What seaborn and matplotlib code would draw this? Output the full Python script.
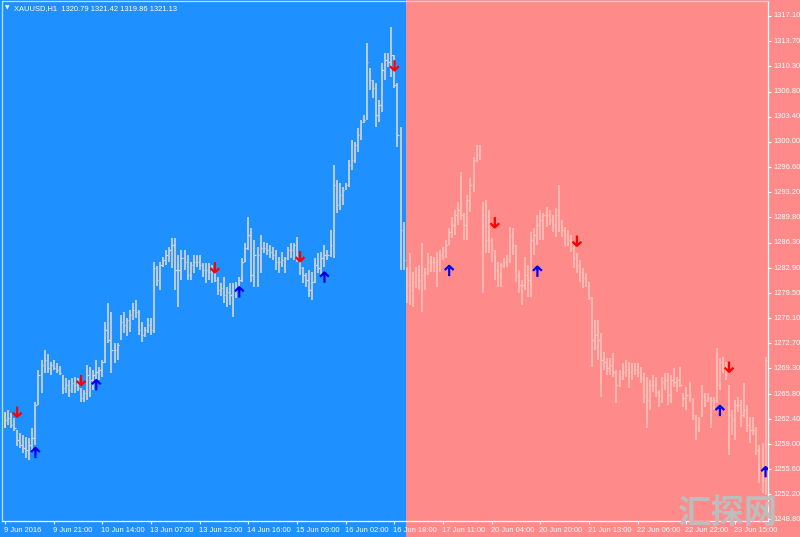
import numpy as np
import pandas as pd
import matplotlib
matplotlib.use("Agg")
import matplotlib.pyplot as plt
import seaborn as sns
from matplotlib.path import Path
from matplotlib.patches import Rectangle
import matplotlib.transforms as mtransforms
from matplotlib import font_manager

# ---------------- data (XAUUSD H1) ----------------
highs = [
    1263.4, 1263.6, 1263.2, 1262.6, 1260.9, 1260.5, 1260.2, 1260.0, 1259.8, 1261.2,
    1264.7, 1269.1, 1270.4, 1271.8, 1271.2, 1270.1, 1270.4, 1270.0, 1269.6, 1268.4,
    1268.0, 1267.7, 1268.0, 1268.1, 1268.0, 1266.6, 1266.4, 1269.7, 1269.5, 1269.1,
    1270.4, 1269.5, 1270.4, 1275.6, 1278.2, 1276.9, 1272.7, 1272.7, 1276.5, 1276.9,
    1276.1, 1277.2, 1278.2, 1278.6, 1277.2, 1275.6, 1274.9, 1276.1, 1276.1, 1283.7,
    1283.2, 1283.7, 1284.4, 1285.4, 1285.8, 1287.0, 1287.0, 1284.7, 1285.4, 1285.4,
    1284.7, 1283.7, 1284.7, 1284.7, 1284.7, 1283.6, 1283.6, 1283.6, 1283.3, 1283.0,
    1281.7, 1280.9, 1281.7, 1280.3, 1280.9, 1280.9, 1281.0, 1281.7, 1284.3, 1286.3,
    1289.8, 1288.3, 1286.7, 1285.8, 1287.4, 1286.4, 1286.3, 1286.0, 1285.8, 1285.4,
    1284.4, 1285.1, 1284.4, 1285.8, 1286.3, 1286.3, 1287.1, 1283.7, 1283.0, 1282.2,
    1282.6, 1282.4, 1284.3, 1284.9, 1285.1, 1286.0, 1285.4, 1288.1, 1296.9, 1294.8,
    1294.4, 1293.9, 1294.4, 1297.6, 1300.3, 1300.0, 1301.9, 1303.0, 1303.7, 1313.4,
    1310.0, 1308.4, 1308.0, 1305.7, 1310.7, 1312.1, 1312.1, 1315.6, 1311.8, 1308.0,
    1302.0, 1289.1, 1283.0, 1284.9, 1282.4, 1283.0, 1283.3, 1286.3, 1282.9, 1284.9,
    1284.5, 1284.4, 1285.1, 1285.4, 1285.8, 1286.7, 1288.3, 1289.8, 1290.8, 1291.9,
    1295.9, 1290.4, 1292.8, 1295.1, 1298.0, 1299.6, 1299.6, 1291.9, 1292.1, 1290.8,
    1287.0, 1285.4, 1283.7, 1283.6, 1284.3, 1284.7, 1288.5, 1288.3, 1286.0, 1282.6,
    1281.3, 1284.4, 1283.3, 1287.8, 1288.3, 1290.1, 1290.8, 1290.4, 1291.2, 1290.8,
    1290.1, 1291.0, 1294.2, 1289.4, 1288.5, 1288.1, 1287.4, 1286.0, 1284.9, 1284.0,
    1282.9, 1282.2, 1281.0, 1279.0, 1275.9, 1275.9, 1274.1, 1271.5, 1270.7, 1270.7,
    1271.4, 1269.1, 1269.1, 1270.0, 1270.4, 1270.2, 1270.0, 1270.0, 1270.0, 1269.5,
    1268.6, 1268.1, 1267.7, 1268.4, 1268.1, 1266.4, 1268.1, 1268.6, 1268.6, 1268.4,
    1269.3, 1268.1, 1269.5, 1265.9, 1266.8, 1267.4, 1265.3, 1263.0, 1262.7, 1267.0,
    1265.9, 1265.9, 1265.4, 1265.4, 1272.0, 1270.7, 1270.8, 1270.2, 1267.0, 1263.6,
    1265.0, 1265.4, 1265.0, 1267.3, 1264.3, 1262.7, 1262.7, 1261.3, 1258.9, 1259.2,
    1270.8,
]
lows = [
    1261.2, 1261.6, 1261.2, 1260.8, 1258.8, 1258.5, 1257.8, 1257.1, 1256.9, 1258.2,
    1258.9, 1264.3, 1265.9, 1268.6, 1268.6, 1268.4, 1269.1, 1268.6, 1268.4, 1265.8,
    1265.9, 1265.4, 1265.9, 1265.9, 1266.2, 1264.7, 1264.7, 1265.0, 1265.4, 1266.4,
    1267.6, 1267.7, 1268.1, 1270.0, 1272.7, 1268.6, 1270.0, 1270.4, 1273.1, 1274.1,
    1273.7, 1274.2, 1275.9, 1276.1, 1273.8, 1272.9, 1273.5, 1274.1, 1273.8, 1274.1,
    1280.5, 1279.9, 1283.0, 1283.3, 1283.7, 1282.9, 1279.9, 1277.6, 1281.3, 1282.6,
    1281.3, 1281.3, 1282.2, 1283.0, 1282.6, 1281.7, 1280.9, 1281.3, 1280.9, 1281.0,
    1279.2, 1279.1, 1278.2, 1277.6, 1277.9, 1276.3, 1278.8, 1279.0, 1281.0, 1283.7,
    1285.4, 1281.0, 1280.3, 1280.3, 1282.2, 1284.9, 1284.7, 1284.3, 1284.0, 1282.6,
    1282.2, 1283.0, 1282.2, 1284.0, 1284.3, 1284.0, 1283.7, 1282.0, 1280.9, 1280.3,
    1279.0, 1278.6, 1280.9, 1282.2, 1282.0, 1283.0, 1284.0, 1284.4, 1284.3, 1290.4,
    1290.8, 1291.5, 1293.5, 1293.9, 1296.2, 1297.2, 1298.6, 1300.3, 1302.6, 1303.0,
    1307.1, 1306.0, 1302.0, 1302.7, 1304.1, 1308.4, 1310.2, 1308.8, 1307.3, 1299.3,
    1282.6, 1282.6, 1278.2, 1277.9, 1277.6, 1280.2, 1279.9, 1276.9, 1279.9, 1282.0,
    1282.4, 1282.4, 1280.3, 1282.4, 1284.0, 1284.3, 1286.0, 1287.0, 1287.4, 1288.7,
    1289.4, 1286.7, 1286.7, 1290.5, 1293.2, 1297.3, 1297.6, 1279.5, 1284.9, 1284.9,
    1283.7, 1281.3, 1280.3, 1280.3, 1282.9, 1283.0, 1283.6, 1284.7, 1281.0, 1279.5,
    1277.9, 1279.9, 1279.0, 1279.0, 1284.7, 1286.0, 1286.7, 1286.7, 1288.5, 1288.7,
    1287.8, 1287.1, 1287.8, 1287.1, 1285.8, 1285.9, 1285.1, 1282.9, 1282.2, 1281.0,
    1280.2, 1280.3, 1278.6, 1269.5, 1271.8, 1270.4, 1265.4, 1269.1, 1268.4, 1268.4,
    1268.1, 1264.6, 1266.8, 1267.7, 1268.1, 1266.6, 1267.7, 1268.4, 1268.1, 1267.3,
    1264.6, 1261.2, 1263.6, 1266.1, 1265.4, 1264.0, 1264.6, 1266.4, 1264.3, 1264.6,
    1266.8, 1266.1, 1266.8, 1264.0, 1263.6, 1264.7, 1262.3, 1259.6, 1260.7, 1262.7,
    1264.0, 1264.7, 1261.2, 1263.6, 1264.6, 1266.4, 1268.6, 1267.7, 1257.5, 1260.2,
    1259.6, 1263.4, 1261.3, 1262.6, 1260.7, 1259.2, 1260.2, 1257.5, 1253.7, 1252.4,
    1252.1,
]
closes = [
    1262.3, 1262.6, 1261.6, 1261.2, 1259.6, 1258.9, 1258.5, 1258.2, 1258.9, 1259.8,
    1264.3, 1268.4, 1269.7, 1270.4, 1269.3, 1269.7, 1269.3, 1269.1, 1268.6, 1266.6,
    1267.0, 1266.4, 1267.3, 1267.0, 1266.6, 1265.3, 1265.9, 1268.4, 1267.7, 1268.4,
    1268.8, 1269.1, 1270.2, 1274.5, 1273.1, 1271.8, 1271.8, 1272.5, 1275.6, 1275.2,
    1275.9, 1276.5, 1277.2, 1276.9, 1274.5, 1273.8, 1274.5, 1275.2, 1274.5, 1282.9,
    1281.3, 1283.3, 1284.0, 1284.7, 1285.4, 1286.0, 1282.6, 1282.6, 1284.3, 1283.7,
    1281.9, 1283.3, 1283.7, 1283.7, 1283.3, 1282.6, 1282.6, 1282.4, 1282.6, 1281.3,
    1279.9, 1280.2, 1279.2, 1279.6, 1279.2, 1279.9, 1280.2, 1281.3, 1283.7, 1285.6,
    1287.4, 1281.9, 1284.7, 1284.7, 1285.6, 1285.6, 1285.4, 1285.1, 1284.7, 1283.7,
    1283.7, 1284.0, 1284.3, 1285.4, 1285.4, 1286.0, 1284.3, 1282.9, 1281.9, 1281.3,
    1279.9, 1281.0, 1283.3, 1282.9, 1284.3, 1284.7, 1284.7, 1286.0, 1294.2, 1291.5,
    1292.8, 1293.5, 1294.2, 1296.9, 1297.6, 1299.6, 1301.0, 1302.7, 1303.0, 1310.9,
    1308.4, 1307.3, 1303.7, 1305.0, 1309.8, 1311.1, 1310.9, 1311.8, 1307.7, 1301.0,
    1288.1, 1284.0, 1280.6, 1279.9, 1281.0, 1281.9, 1281.3, 1281.9, 1282.4, 1283.7,
    1283.7, 1283.7, 1283.7, 1284.7, 1285.4, 1286.0, 1287.8, 1288.7, 1290.1, 1290.8,
    1290.1, 1288.7, 1292.1, 1294.2, 1297.6, 1298.2, 1298.9, 1290.1, 1286.7, 1286.7,
    1285.4, 1282.6, 1281.9, 1283.3, 1283.7, 1284.0, 1287.4, 1286.0, 1281.9, 1280.6,
    1280.6, 1281.9, 1281.3, 1286.7, 1287.4, 1288.7, 1289.4, 1290.1, 1290.1, 1289.4,
    1288.7, 1290.1, 1289.1, 1288.1, 1287.4, 1286.7, 1285.6, 1284.3, 1283.3, 1282.4,
    1281.6, 1281.0, 1279.0, 1273.1, 1273.8, 1273.1, 1270.4, 1270.2, 1269.3, 1269.7,
    1268.8, 1267.0, 1268.0, 1268.8, 1269.1, 1268.8, 1269.1, 1269.1, 1268.8, 1268.0,
    1265.7, 1265.0, 1267.0, 1267.0, 1266.1, 1265.7, 1267.4, 1267.7, 1265.7, 1267.7,
    1267.4, 1267.7, 1267.0, 1265.3, 1265.7, 1265.7, 1263.0, 1261.2, 1262.3, 1265.7,
    1265.0, 1265.3, 1265.0, 1265.0, 1267.0, 1270.2, 1269.3, 1268.4, 1263.0, 1262.3,
    1264.3, 1264.3, 1263.0, 1263.6, 1261.6, 1260.9, 1260.9, 1258.2, 1255.5, 1254.1,
    1270.4,
]
time_labels = ["9 Jun 2016", "9 Jun 21:00", "10 Jun 14:00", "13 Jun 07:00",
               "13 Jun 23:00", "14 Jun 16:00", "15 Jun 09:00", "16 Jun 02:00",
               "16 Jun 18:00", "17 Jun 11:00", "20 Jun 04:00", "20 Jun 20:00",
               "21 Jun 13:00", "22 Jun 06:00", "22 Jun 22:00", "23 Jun 15:00"]
bars_per_label = 16
price_ticks = [1317.10, 1313.70, 1310.30, 1306.80, 1303.40, 1300.00, 1296.60,
               1293.20, 1289.80, 1286.30, 1282.90, 1279.50, 1276.10, 1272.70,
               1269.30, 1265.80, 1262.40, 1259.00, 1255.60, 1252.20, 1248.80]
sell_bar = [4, 25, 69, 97, 128, 161, 188, 238]
sell_level = [1263.4, 1267.7, 1283.0, 1284.5, 1310.4, 1289.1, 1286.6, 1269.5]
buy_bar = [10, 30, 77, 105, 146, 175, 235, 250]
buy_level = [1257.8, 1267.0, 1279.6, 1281.6, 1282.5, 1282.4, 1263.5, 1255.2]
bear_zone_start = 132          # first bar of the pink zone
header = "XAUUSD,H1  1320.79 1321.42 1319.86 1321.13"
watermark = "汇探网"

# ---------------- style ----------------
BLUE = "#1E90FF"
PINK = "#FF8A8A"
BAR_ON_BLUE = "#D6D6D6"
BAR_ON_PINK = "#FFC2BA"
FS = 5.4

sns.set_theme(style="dark")
avail = {f.name for f in font_manager.fontManager.ttflist}
fam = next((f for f in ["Liberation Sans Narrow", "Liberation Sans", "DejaVu Sans"] if f in avail), "DejaVu Sans")
plt.rcParams["font.family"] = [fam, "DejaVu Sans"]

W, H = 800, 537
fig = plt.figure(figsize=(W / 100, H / 100), dpi=100)
fig.patch.set_facecolor(PINK)
ax = fig.add_axes([2 / W, 16 / H, 766 / W, 520 / H])
ax.set_facecolor("none")
ax.grid(False)

df = pd.DataFrame({"bar": np.arange(len(highs)), "high": highs, "low": lows, "close": closes})
df["color"] = np.where(df["bar"] < bear_zone_start, BAR_ON_BLUE, BAR_ON_PINK)
df.loc[0, "color"] = "#F2E7A6"

ax.vlines(df["bar"], df["low"], df["high"], colors=df["color"], linewidth=1.2, zorder=2)
ax.hlines(df["close"], df["bar"], df["bar"] + 0.45, colors=df["color"], linewidth=0.9, zorder=2)

ax.set_xlim(-0.99, 250.8)
ax.set_ylim(1248.57, 1319.13)

# blue zone behind everything (full figure height)
trans = mtransforms.blended_transform_factory(ax.transData, fig.transFigure)
fig.patches.append(Rectangle((-60, 0), bear_zone_start - 0.25 + 60, 1, transform=trans,
                             facecolor=BLUE, edgecolor="none", zorder=-1))

# arrows
down_path = Path([(0, 5), (0, -5), (-4.3, -0.9), (0, -5), (4.3, -0.9)],
                 [Path.MOVETO, Path.LINETO, Path.MOVETO, Path.LINETO, Path.LINETO])
up_path = Path([(0, -5), (0, 5), (-4.3, 0.9), (0, 5), (4.3, 0.9)],
               [Path.MOVETO, Path.LINETO, Path.MOVETO, Path.LINETO, Path.LINETO])
sells = pd.DataFrame({"bar": sell_bar, "level": sell_level})
buys = pd.DataFrame({"bar": buy_bar, "level": buy_level})
sns.scatterplot(data=sells, x="bar", y="level", marker=down_path, s=55, color="#FF0000",
                linewidth=1.6, ax=ax, legend=False, zorder=3)
coll = ax.collections[-1]
coll.set_facecolor("none"); coll.set_edgecolor("#FF0000")
sns.scatterplot(data=buys, x="bar", y="level", marker=up_path, s=55, color="#0000FF",
                linewidth=1.6, ax=ax, legend=False, zorder=3)
coll = ax.collections[-1]
coll.set_facecolor("none"); coll.set_edgecolor("#0000F0")
ax.set_xlabel(""); ax.set_ylabel("")

# axes / ticks
ax.set_xticks(np.arange(len(time_labels)) * bars_per_label)
ax.set_xticklabels(time_labels)
ax.yaxis.tick_right()
ax.set_yticks(price_ticks)
ax.set_yticklabels([f"{v:.2f}" for v in price_ticks])
ax.tick_params(axis="x", bottom=True, top=False, length=2.4, width=0.8, colors="white",
               labelsize=FS, pad=1.6, labelcolor="white")
ax.tick_params(axis="y", right=True, left=False, length=2.2, width=0.8, colors="white",
               labelsize=FS, pad=1.4, labelcolor="white")
off = mtransforms.ScaledTranslation(-1 / 100, 0, fig.dpi_scale_trans)
for lab in ax.get_xticklabels():
    lab.set_horizontalalignment("left")
    lab.set_transform(lab.get_transform() + off)
for lab in ax.get_yticklabels():
    lab.set_verticalalignment("center")

for side in ["bottom", "right"]:
    ax.spines[side].set_color("white"); ax.spines[side].set_linewidth(0.9)
for side in ["left", "top"]:
    ax.spines[side].set_color("#B9DEFF"); ax.spines[side].set_linewidth(0.9)
for sp in ax.spines.values():
    sp.set_visible(True)

# header
fig.text(5 / W, 1 - 8 / H, "▼", family="DejaVu Sans", fontsize=4.2, color="white",
         va="center", ha="left")
fig.text(14 / W, 1 - 8.5 / H, header, fontsize=FS, color="white", va="center", ha="left")

# watermark (drawn over the axis labels, as in the original)
fig.text(677 / W, 1 - 497 / H, watermark, family=["Noto Sans CJK SC", "DejaVu Sans"],
         fontsize=24, fontweight="bold", color="#BDBDBD", va="top", ha="left", zorder=5)

fig.savefig("out.png", dpi=100, facecolor=fig.get_facecolor())
